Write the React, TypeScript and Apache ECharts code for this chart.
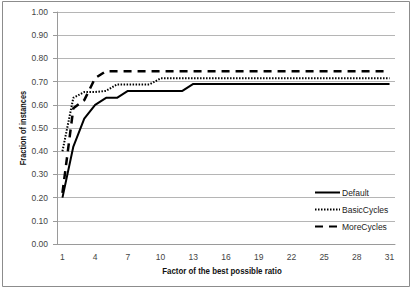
import React, { useEffect, useRef } from "react";
import * as echarts from "echarts";

const categories = ["1","2","3","4","5","6","7","8","9","10","11","12","13","14","15","16","17","18","19","20","21","22","23","24","25","26","27","28","29","30","31"];
const defaultSeries = [0.20,0.42,0.54,0.60,0.63,0.63,0.66,0.66,0.66,0.66,0.66,0.66,0.69,0.69,0.69,0.69,0.69,0.69,0.69,0.69,0.69,0.69,0.69,0.69,0.69,0.69,0.69,0.69,0.69,0.69,0.69];
const basicCycles = [0.40,0.63,0.655,0.655,0.66,0.688,0.688,0.688,0.688,0.714,0.714,0.714,0.714,0.714,0.714,0.714,0.714,0.714,0.714,0.714,0.714,0.714,0.714,0.714,0.714,0.714,0.714,0.714,0.714,0.714,0.714];
const moreCycles = [0.22,0.585,0.62,0.715,0.745,0.745,0.745,0.745,0.745,0.745,0.745,0.745,0.745,0.745,0.745,0.745,0.745,0.745,0.745,0.745,0.745,0.745,0.745,0.745,0.745,0.745,0.745,0.745,0.745,0.745,0.745];
const seriesNames = ["Default", "BasicCycles", "MoreCycles"];
const xTitle = "Factor of the best possible ratio";
const yTitle = "Fraction of instances";

const FONT = "Liberation Sans";

export default function App() {
  const ref = useRef<HTMLDivElement>(null);
  useEffect(() => {
    if (!ref.current) return;
    const chart = echarts.init(ref.current, null, { renderer: "svg" });
    chart.setOption({
      animation: false,
      backgroundColor: "#ffffff",
      textStyle: { fontFamily: FONT },
      grid: { left: 57, right: 20, top: 12, bottom: 46 },
      graphic: [
        {
          type: "rect",
          shape: { x: 2.5, y: 1.5, width: 407, height: 285 },
          style: { fill: "none", stroke: "#8c8c8c", lineWidth: 1 },
          silent: true,
        },
        {
          type: "text",
          x: 222,
          y: 271,
          scaleX: 0.83,
          style: {
            text: xTitle,
            font: `bold 9.5px ${FONT}`,
            fill: "#111",
            align: "center",
            verticalAlign: "middle",
          },
          silent: true,
        },
        {
          type: "text",
          x: 23,
          y: 128,
          rotation: Math.PI / 2,
          scaleX: 0.78,
          style: {
            text: yTitle,
            font: `bold 9.5px ${FONT}`,
            fill: "#111",
            align: "center",
            verticalAlign: "middle",
          },
          silent: true,
        },
      ],
      legend: {
        orient: "vertical",
        left: 314,
        top: 188,
        itemWidth: 25,
        itemHeight: 10,
        itemGap: 8,
        padding: 0,
        data: seriesNames,
        itemStyle: { opacity: 0 },
        textStyle: { fontSize: 8.5, color: "#222", fontFamily: FONT, padding: [0, 0, 0, -3] },
      },
      xAxis: {
        type: "category",
        data: categories,
        boundaryGap: true,
        axisLine: { lineStyle: { color: "#9a9a9a", width: 1 } },
        axisTick: { show: false },
        axisLabel: { interval: 2, fontSize: 8.5, color: "#444", margin: 8, fontFamily: FONT },
        splitLine: { show: false },
      },
      yAxis: {
        type: "value",
        min: 0,
        max: 1,
        interval: 0.1,
        axisLine: { show: true, lineStyle: { color: "#9a9a9a", width: 1 } },
        axisTick: { show: true, length: 4, lineStyle: { color: "#9a9a9a" } },
        axisLabel: {
          fontSize: 8.5,
          color: "#444",
          margin: 9,
          fontFamily: FONT,
          formatter: (v: number) => v.toFixed(2),
        },
        splitLine: { show: true, lineStyle: { color: "#b5b5b5", width: 1 } },
      },
      series: [
        {
          name: seriesNames[0],
          type: "line",
          data: defaultSeries,
          symbol: "none",
          lineStyle: { color: "#000", width: 2, type: "solid" },
          itemStyle: { color: "#000" },
        },
        {
          name: seriesNames[1],
          type: "line",
          data: basicCycles,
          symbol: "none",
          lineStyle: { color: "#000", width: 2, type: [1.5, 1.5] },
          itemStyle: { color: "#000" },
        },
        {
          name: seriesNames[2],
          type: "line",
          data: moreCycles,
          symbol: "none",
          lineStyle: { color: "#000", width: 2.5, type: [8, 6] },
          itemStyle: { color: "#000" },
        },
      ],
    });
    return () => chart.dispose();
  }, []);
  return (
    <div
      ref={ref}
      style={{ position: "fixed", left: 0, top: 0, width: 415, height: 290 }}
    />
  );
}
